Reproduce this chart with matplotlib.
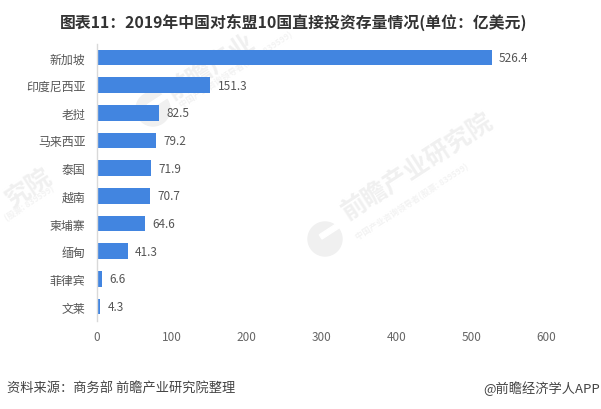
from matplotlib import pyplot as plt
from matplotlib.patches import Circle, Rectangle
from matplotlib.transforms import IdentityTransform

plt.rcParams['font.family'] = ['Noto Sans CJK SC', 'DejaVu Sans']

countries = ['新加坡', '印度尼西亚', '老挝', '马来西亚', '泰国', '越南', '柬埔寨', '缅甸', '菲律宾', '文莱']
values = [526.4, 151.3, 82.5, 79.2, 71.9, 70.7, 64.6, 41.3, 6.6, 4.3]
ticks = [0, 100, 200, 300, 400, 500, 600]

W, H = 601, 410
fig = plt.figure(figsize=(W / 100, H / 100), dpi=100)
ax = fig.add_axes([96.7 / W, 1 - 321.5 / H, 450 / W, 277 / H], zorder=2)
ax.patch.set_alpha(0)

wm = '#f0f0f0'
wm_small = '#f3f3f3'


# watermark, positions in picture pixels from the top left
def watermark(x, y, s, size, color):
    fig.text(x / W, 1 - y / H, s, color=color, fontsize=size, rotation=33,
             rotation_mode='anchor', ha='center', va='center', fontweight='bold', zorder=0)


def logo(x, y):
    fig.add_artist(Circle((x, H - y), 17, color=wm, transform=IdentityTransform(), zorder=0))
    fig.add_artist(Rectangle((x - 3, H - y), 30, 5, angle=33, color='white',
                             transform=IdentityTransform(), zorder=0))


watermark(418, 167, '前瞻产业研究院', 18, wm)
watermark(412, 202, '中国产业咨询领导者(股票: 839599)', 6, wm_small)
logo(325, 240)

watermark(212, 68, '前瞻产业', 18, wm)
watermark(236, 70, '中国产业咨询领导者(股票: 839599)', 6, wm_small)
logo(153, 110)

watermark(29, 189, '究院', 18, wm)
watermark(30, 204, '(股票: 839599)', 6, wm_small)

ax.barh(range(len(countries)), values, height=0.56, color='#4285e0', zorder=2)
for i, v in enumerate(values):
    ax.text(v + 10, i, str(v), va='center', ha='left', fontsize=8.5, color='#555555')

ax.set_xlim(0, 600)
ax.set_ylim(len(countries) - 0.5, -0.5)
ax.set_xticks(ticks)
ax.set_yticks(range(len(countries)))
ax.set_yticklabels(countries)
ax.tick_params(axis='x', length=0, pad=7, labelsize=8.5, labelcolor='#666666')
ax.tick_params(axis='y', length=0, pad=8, labelsize=8.6, labelcolor='#555555')
for s in ['top', 'right', 'bottom']:
    ax.spines[s].set_visible(False)
ax.spines['left'].set_color('#d9d9d9')
ax.spines['left'].set_linewidth(1)

fig.text(293.5 / W, 1 - 22 / H, '图表11：2019年中国对东盟10国直接投资存量情况(单位：亿美元)',
         ha='center', va='center', fontsize=11.4, fontweight='bold', color='#333333')
fig.text(7 / W, 1 - 389 / H, '资料来源：商务部 前瞻产业研究院整理',
         ha='left', va='center', fontsize=9.5, color='#444444')
fig.text(600 / W, 1 - 389 / H, '@前瞻经济学人APP',
         ha='right', va='center', fontsize=9.5, color='#444444')

fig.savefig('out.png', dpi=100)
